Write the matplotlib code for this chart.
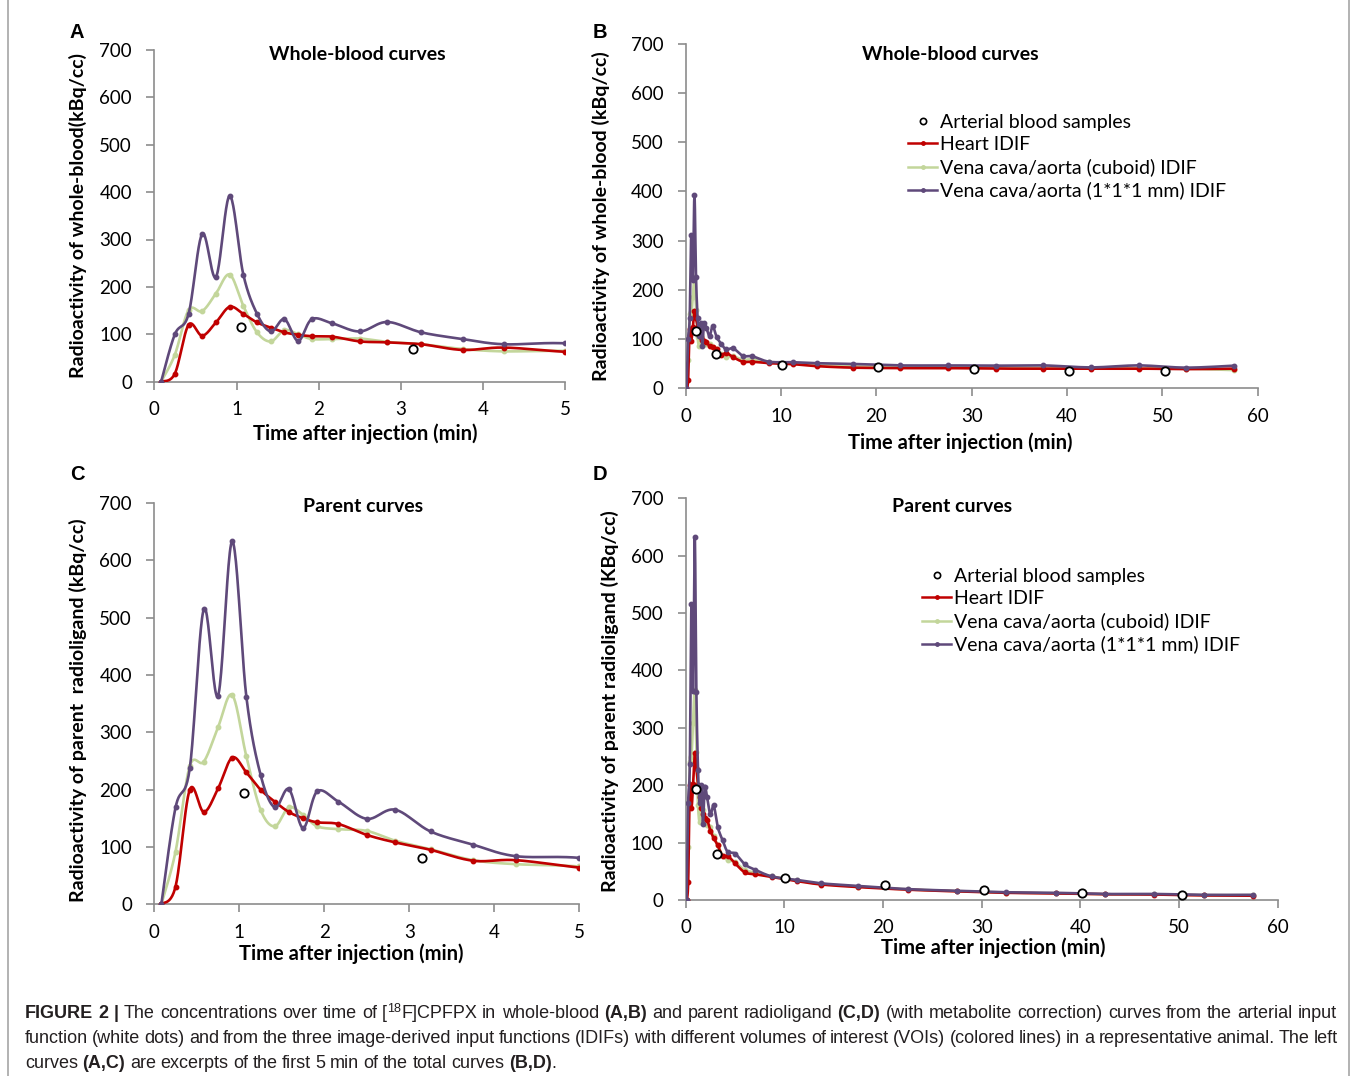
import numpy as np
import matplotlib
matplotlib.use('Agg')
import matplotlib.pyplot as plt
from matplotlib.lines import Line2D

plt.rcParams['font.family'] = ['Lato', 'DejaVu Sans']

# frame mid times (min)
times = [0.083, 0.25, 0.417, 0.583, 0.75, 0.917, 1.083, 1.25, 1.417, 1.583, 1.75, 1.917,
         2.167, 2.5, 2.833, 3.25, 3.75, 4.25, 5.0, 6.0, 7.0, 8.75, 11.25, 13.75, 17.5,
         22.5, 27.5, 32.5, 37.5, 42.5, 47.5, 52.5, 57.5]

# whole-blood curves (kBq/cc)
wb_heart = [0, 17, 120, 97, 125, 158, 143, 125, 114, 104, 99, 96, 95, 85, 83, 79, 67, 72, 63,
            54, 54, 51, 49, 45, 42, 41, 41, 40, 40, 40, 40, 39, 40]
wb_cuboid = [0, 57, 151, 149, 186, 226, 160, 104, 85, 109, 100, 90, 90, 91, 84, 79, 69, 64, 65,
             58, 59, 53, 51, 48, 45, 43, 43, 42, 42, 41, 41, 40, 37]
wb_1mm = [0, 100, 143, 312, 221, 392, 226, 143, 106, 132, 86, 132, 123, 106, 126, 104, 90, 79, 81,
          66, 65, 54, 53, 51, 49.5, 46.5, 46.5, 46, 46.5, 42.5, 46.5, 42, 46]

# parent curves (kBq/cc)
pa_heart = [0, 31, 200, 161, 202, 256, 230, 200, 179, 161, 150, 143, 140, 121, 108, 95, 76, 77, 64,
            48, 45, 40, 33, 27, 22.5, 18, 15, 12.5, 11.5, 10, 9.5, 8, 7.5]
pa_cuboid = [0, 92, 241, 249, 309, 365, 258, 165, 136, 169, 156, 136, 131, 128, 111, 96, 77, 70, 66,
             52, 48, 41, 34, 28, 23.5, 18.5, 15.5, 13, 12, 10, 10, 8.5, 8.5]
pa_1mm = [0, 169, 237, 515, 364, 633, 362, 226, 169, 201, 133, 197, 179, 149, 165, 127, 104, 84, 81,
          62, 53, 41, 35, 29, 24.5, 19, 16, 13.5, 12.5, 10.5, 10.5, 9, 9]

# arterial blood samples
sample_t = [1.06, 3.15, 10.05, 20.2, 30.2, 40.2, 50.25]
sample_wb = [116, 70, 47, 44, 39, 35, 35]
sample_pa = [194, 80, 39, 26, 17, 12, 9.5]

labels = ['Arterial blood samples', 'Heart IDIF', 'Vena cava/aorta (cuboid) IDIF',
          'Vena cava/aorta (1*1*1 mm) IDIF']
RED, GREEN, PURPLE = '#C00000', '#C3D69B', '#5F497A'
AXC = '#8C8C8C'

W, H = 1357, 1076
fig = plt.figure(figsize=(W / 100, H / 100), dpi=100, facecolor='white')


def px_axes(l, t, r, b):
    return fig.add_axes([l / W, 1 - b / H, (r - l) / W, (b - t) / H])


def ftext(x, y, s, **kw):
    return fig.text(x / W, 1 - y / H, s, **kw)


def smooth(ax, x, y, n=24):
    # excel style smoothed line, done in screen space
    p = ax.transData.transform(np.column_stack([x, y]))
    P = np.vstack([p[0], p, p[-1]])
    segs = []
    tt = np.linspace(0, 1, n)[:, None]
    for i in range(1, len(P) - 2):
        p0, p1, p2, p3 = P[i - 1], P[i], P[i + 1], P[i + 2]
        c1 = p1 + (p2 - p0) / 6
        c2 = p2 - (p3 - p1) / 6
        segs.append((1 - tt) ** 3 * p1 + 3 * (1 - tt) ** 2 * tt * c1
                    + 3 * (1 - tt) * tt ** 2 * c2 + tt ** 3 * p2)
    c = ax.transData.inverted().transform(np.vstack(segs))
    return c[:, 0], c[:, 1]


def panel(rect, xmax, xticks, series, samples, ylabel, ylab_xy, title, title_xy,
          xlab_xy, letter, letter_xy, legend_xy=None):
    ax = px_axes(*rect)
    ax.set_xlim(0, xmax)
    ax.set_ylim(0, 700)
    ax.set_xticks(xticks)
    ax.set_yticks(range(0, 701, 100))
    for s in ['top', 'right']:
        ax.spines[s].set_visible(False)
    for s in ['left', 'bottom']:
        ax.spines[s].set_color(AXC)
        ax.spines[s].set_linewidth(1.2)
    ax.tick_params(colors=AXC, labelcolor='black', labelsize=13.5, length=6, width=1.2)
    ax.tick_params(axis='x', pad=8)
    ax.tick_params(axis='y', pad=10)
    ax.patch.set_alpha(0)

    handles = [Line2D([], [], ls='none', marker='o', ms=4.5, mfc='white', mec='black', mew=1.2)]
    for vals, col, z in series:
        sx, sy = smooth(ax, times, vals)
        ax.plot(sx, sy, color=col, lw=1.9, zorder=z, solid_capstyle='round')
        ax.plot(times, vals, ls='none', marker='o', ms=3.2, color=col, zorder=z)
    for col in [RED, GREEN, PURPLE]:
        handles.append(Line2D([], [], color=col, lw=1.8, marker='o', ms=2.5))
    ax.plot(sample_t, samples, ls='none', marker='o', ms=6, mfc='white', mec='black',
            mew=1.3, zorder=10)

    ftext(*ylab_xy, ylabel, rotation=90, ha='center', va='center', fontsize=14,
          fontweight='bold')
    ftext(*title_xy, title, ha='center', va='center', fontsize=14, fontweight='bold')
    ftext(*xlab_xy, 'Time after injection (min)', ha='center', va='center', fontsize=14.5,
          fontweight='bold')
    ftext(*letter_xy, letter, ha='center', va='center', fontsize=14.5, fontweight='bold',
          family=['Liberation Sans', 'DejaVu Sans'])
    if legend_xy is not None:
        ax.legend(handles, labels, loc='upper left',
                  bbox_to_anchor=(legend_xy[0] / W, 1 - legend_xy[1] / H),
                  bbox_transform=fig.transFigure, frameon=False, fontsize=14,
                  handlelength=1.5, handletextpad=0.15, labelspacing=0.27,
                  borderpad=0, borderaxespad=0, numpoints=1)
    return ax


wb_series = [(wb_cuboid, GREEN, 3), (wb_heart, RED, 4), (wb_1mm, PURPLE, 5)]
pa_series = [(pa_cuboid, GREEN, 3), (pa_heart, RED, 4), (pa_1mm, PURPLE, 5)]

panel((154.3, 49.9, 565.3, 381.7), 5, range(0, 6), wb_series, sample_wb,
      'Radioactivity of whole-blood(kBq/cc)', (78, 216), 'Whole-blood curves', (357, 55),
      (365, 434), 'A', (77, 33))
panel((685.7, 43.9, 1257.7, 388.3), 60, range(0, 61, 10), wb_series, sample_wb,
      'Radioactivity of whole-blood (kBq/cc)', (601, 216), 'Whole-blood curves', (950, 55),
      (960, 443), 'B', (600, 33), legend_xy=(908, 114))
panel((154.3, 503, 579.3, 904.3), 5, range(0, 6), pa_series, sample_pa,
      'Radioactivity of parent  radioligand (kBq/cc)', (78, 710), 'Parent curves', (363, 507),
      (351, 954), 'C', (77, 474))
panel((685.7, 498.2, 1277.7, 900), 60, range(0, 61, 10), pa_series, sample_pa,
      'Radioactivity of parent radioligand (KBq/cc)', (610, 701), 'Parent curves', (952, 507),
      (993, 948), 'D', (600, 474), legend_xy=(922, 568))

# outer frame of the figure
fig.add_artist(Line2D([8 / W, 8 / W], [0, 1], color='#A6A6A6', lw=1.2))
fig.add_artist(Line2D([1349 / W, 1349 / W], [0, 1], color='#A6A6A6', lw=1.2))

# caption, drawn word by word so the first two lines can be justified
cap_font = ['Liberation Sans Narrow', 'DejaVu Sans Condensed', 'Liberation Sans', 'DejaVu Sans']
cap_fs = 13
r = fig.canvas.get_renderer()


def caption_line(yb, words, x0=25, x1=None):
    placed = []
    widths = []
    for w in words:
        runs = []
        for txt, bold, sup in w:
            t = ftext(0, 0, txt, fontsize=cap_fs * (0.7 if sup else 1), va='baseline',
                      fontweight='bold' if bold else 'normal', family=cap_font, color='#231F20')
            runs.append((t, t.get_window_extent(r).width, sup))
        placed.append(runs)
        widths.append(sum(rw for _, rw, _ in runs))
    sp = cap_fs * 0.25 * 100 / 72
    if x1 is not None and len(words) > 1:
        sp = (x1 - x0 - sum(widths)) / (len(words) - 1)
    x = x0
    for runs, wsum in zip(placed, widths):
        xx = x
        for t, rw, sup in runs:
            t.set_position((xx / W, 1 - (yb - (6 if sup else 0)) / H))
            xx += rw
        x += wsum + sp


def words(s, bold=False):
    return [[(w, bold, False)] for w in s.split()]


line1 = (words('FIGURE 2 |', True) + words('The concentrations over time of')
         + [[('[', False, False), ('18', False, True), ('F]CPFPX', False, False)]]
         + words('in whole-blood') + words('(A,B)', True) + words('and parent radioligand')
         + words('(C,D)', True)
         + words('(with metabolite correction) curves from the arterial input'))
line2 = words('function (white dots) and from the three image-derived input functions (IDIFs) '
              'with different volumes of interest (VOIs) (colored lines) in a representative '
              'animal. The left')
line3 = (words('curves') + words('(A,C)', True)
         + words('are excerpts of the first 5 min of the total curves')
         + [[('(B,D)', True, False), ('.', False, False)]])

caption_line(1018, line1, x1=1337)
caption_line(1043, line2, x1=1338)
caption_line(1068, line3)

fig.savefig('out.png', dpi=100, facecolor='white')
